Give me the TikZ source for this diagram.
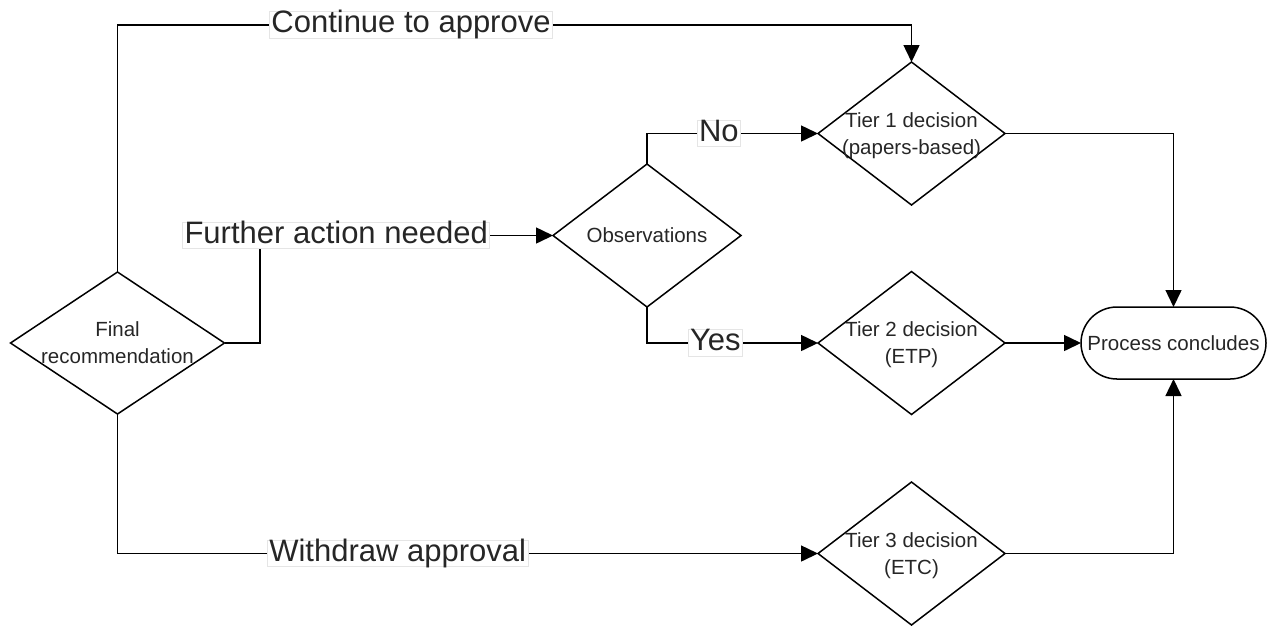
\documentclass[tikz,border=0pt]{standalone}
\usepackage{fontspec}
\setmainfont{Liberation Sans}
\usetikzlibrary{shapes.geometric, arrows.meta}

\begin{document}
\begin{tikzpicture}[x=0.5pt, y=-0.5pt, line width=0.75pt,
    every node/.style={inner sep=0, outer sep=0},
    decision/.style={draw, diamond, minimum width=93.5pt, minimum height=71.5pt},
    txt/.style={font=\fontsize{10.25pt}{13.5pt}\selectfont, align=center, text=black!85},
    lbl/.style={fill=white, draw=black!10, line width=0.4pt, inner sep=1pt, text=black!85, font=\fontsize{15.5pt}{18pt}\selectfont, text height=0.95em, text depth=0.17em},
    arr/.style={-{Triangle[length=8.5pt, width=8pt]}}]
    \useasboundingbox (0,0) rectangle (1267,628);
    % decisions
    \node [decision, minimum width=107pt, minimum height=71pt, label={[txt]center:Final\\recommendation}] (fin) at (117.5,343) {};
    \node [decision, minimum width=94pt, label={[txt]center:Observations}] (obs) at (647,235.5) {};
    \node [decision, label={[txt, yshift=-1pt]center:Tier 1 decision\\(papers-based)}] (t1) at (911.5,133.5) {};
    \node [decision, label={[txt, yshift=-1pt]center:Tier 2 decision\\(ETP)}] (t2) at (911.5,343) {};
    \node [decision, label={[txt, yshift=-1pt]center:Tier 3 decision\\(ETC)}] (t3) at (911.5,553.5) {};
    \node [draw, rounded corners=18pt, minimum width=92.5pt, minimum height=36pt, txt] (end) at (1173.5,343) {Process concludes};
    % edges
    \draw [arr] (fin.north) |- (411,25) node [lbl] {Continue to approve} -| (t1.north);
    \draw [arr] (fin.east) -| (260,235.5) -- (obs.west) node [lbl, pos=0.26] {Further action needed};
    \draw [arr] (obs.north) |- (t1.west) node [lbl, pos=0.71] {No};
    \draw [arr] (obs.south) |- (t2.west) node [lbl, pos=0.70] {Yes};
    \draw [arr] (fin.south) |- (t3.west) node [lbl, pos=0.70] {Withdraw approval};
    \draw [arr] (t1.east) -| (end.north);
    \draw [arr] (t2.east) -- (end.west);
    \draw [arr] (t3.east) -| (end.south);
\end{tikzpicture}
\end{document}
